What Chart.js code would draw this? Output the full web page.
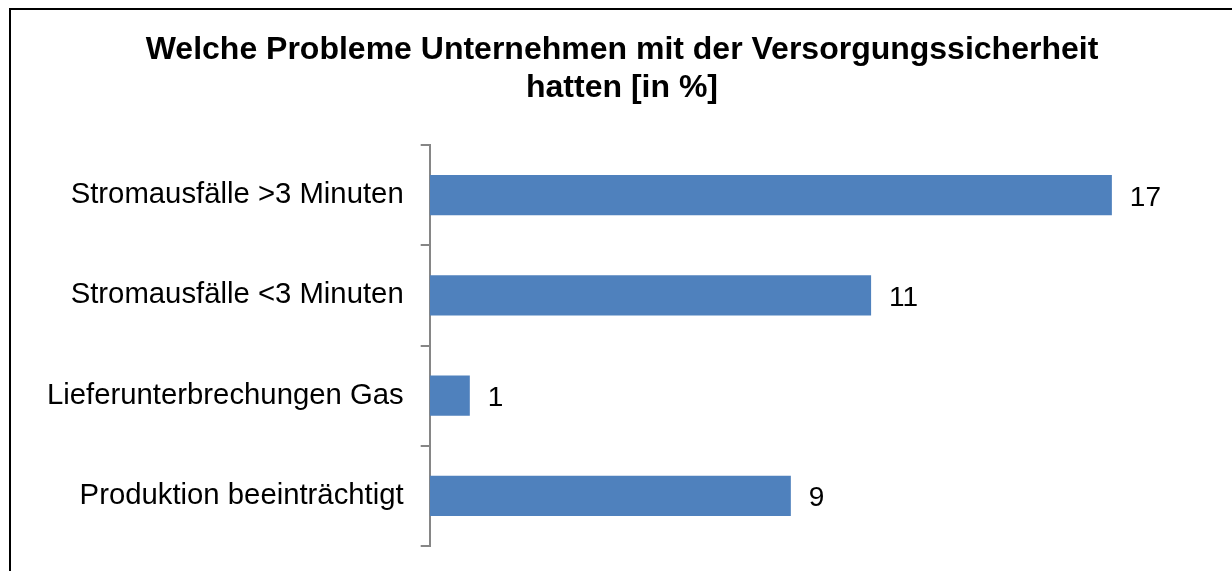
<!DOCTYPE html>
<html><head><meta charset="utf-8">
<script src="https://cdn.jsdelivr.net/npm/chart.js@4"></script>
<style>html,body{margin:0;padding:0;background:#fff}#wrap{width:1232px;height:571px;position:relative}</style>
</head><body><div id="wrap"><canvas id="c" width="1232" height="571"></canvas></div>
<script>
const categories = ["Stromausfälle >3 Minuten","Stromausfälle <3 Minuten","Lieferunterbrechungen Gas","Produktion beeinträchtigt"];
const values = [17, 11, 1, 9];
const titleLines = ["Welche Probleme Unternehmen mit der Versorgungssicherheit","hatten [in %]"];
const FONT = "'Liberation Sans', Arial, sans-serif";

const framePlugin = {
  id: 'frame',
  beforeDraw(chart){
    const ctx = chart.ctx;
    ctx.save();
    ctx.fillStyle = '#fff';
    ctx.fillRect(0,0,chart.width,chart.height);
    ctx.strokeStyle = '#000';
    ctx.lineWidth = 2;
    ctx.beginPath();
    ctx.moveTo(10, chart.height+5);
    ctx.lineTo(10, 9);
    ctx.lineTo(chart.width+5, 9);
    ctx.stroke();
    // title
    ctx.fillStyle = '#000';
    ctx.font = 'bold 32px ' + FONT;
    ctx.textAlign = 'center';
    ctx.textBaseline = 'alphabetic';
    ctx.fillText(titleLines[0], 622, 59);
    ctx.fillText(titleLines[1], 622, 97);
    ctx.restore();
  }
};
const labelPlugin = {
  id: 'vals',
  afterDatasetsDraw(chart){
    const ctx = chart.ctx;
    const meta = chart.getDatasetMeta(0);
    ctx.save();
    ctx.fillStyle = '#000';
    ctx.font = '28px ' + FONT;
    ctx.textAlign = 'left';
    ctx.textBaseline = 'alphabetic';
    meta.data.forEach((bar,i)=>{
      ctx.fillText(String(values[i]), bar.x + 18, bar.y + 10.5);
    });
    ctx.restore();
  }
};

new Chart(document.getElementById('c'), {
  type: 'bar',
  data: { labels: categories, datasets: [{ data: values, backgroundColor: '#4F81BD', borderWidth: 0, barPercentage: 1, categoryPercentage: 0.4 }] },
  options: {
    indexAxis: 'y',
    responsive: false,
    animation: false,
    layout: { padding: { left: 30, right: 80, top: 145, bottom: 25 } },
    plugins: {
      legend: { display: false },
      tooltip: { enabled: false },
      title: { display: false }
    },
    scales: {
      x: { display: false, min: 0, max: 18 },
      y: {
        grid: { drawOnChartArea: false, drawTicks: true, tickLength: 9, color: '#868686', lineWidth: 2, offset: true },
        border: { display: true, color: '#868686', width: 2 },
        ticks: { color: '#000', font: { family: FONT, size: 29.3, lineHeight: 0.5 }, padding: 17 }
      }
    }
  },
  plugins: [framePlugin, labelPlugin]
});
</script></body></html>
